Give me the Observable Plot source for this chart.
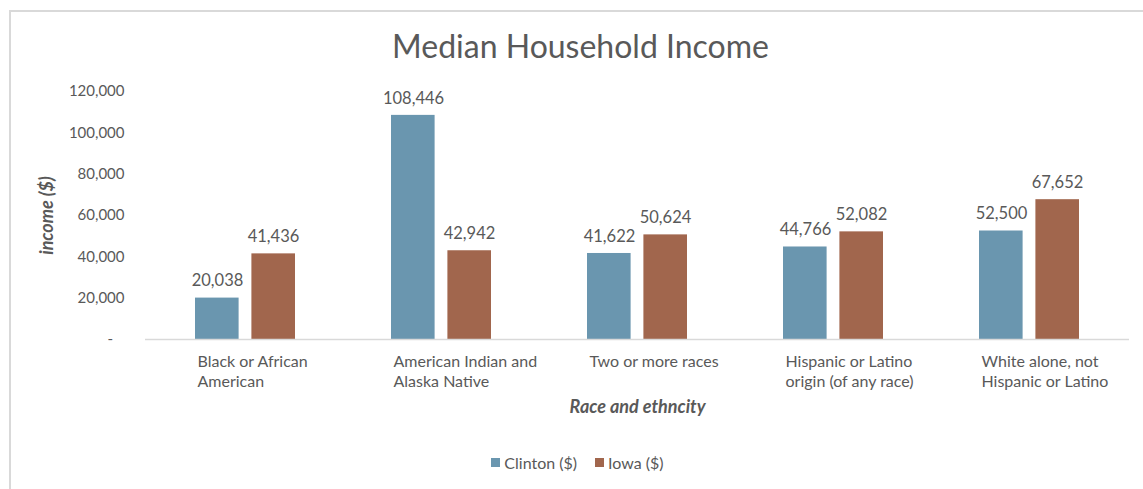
<!DOCTYPE html>
<html>
<head>
<meta charset="utf-8">
<script src="https://cdn.jsdelivr.net/npm/d3@7"></script>
<script src="https://cdn.jsdelivr.net/npm/@observablehq/plot@0.6"></script>
<style>
  html, body { margin: 0; padding: 0; background: #fff; }
  body { width: 1143px; height: 489px; overflow: hidden; position: relative; font-family: Lato, "Open Sans", sans-serif; color: #595959; }
  #frame { position: absolute; left: 9px; top: 10px; width: 1300px; height: 700px; border-top: 2px solid #d9d9d9; border-left: 2px solid #d9d9d9; box-sizing: border-box; }
  #wrap { position: absolute; left: 0; top: 0; width: 1143px; }
  #title { height: 75px; line-height: 92px; text-align: center; font-size: 32px; padding-left: 18px; box-sizing: border-box; }
  #chart svg { display: block; }
  #legend { display: flex; justify-content: center; align-items: center; gap: 18px; font-size: 16px; padding-top: 23px; padding-left: 12px; }
  .key { display: flex; align-items: center; gap: 4px; }
  .sw { width: 9px; height: 9px; display: inline-block; }
</style>
</head>
<body>
<div id="frame"></div>
<div id="wrap">
  <div id="title">Median Household Income</div>
  <div id="chart"></div>
  <div id="legend"></div>
</div>
<script>
const categories = [
  "Black or African American",
  "American Indian and Alaska Native",
  "Two or more races",
  "Hispanic or Latino origin (of any race)",
  "White alone, not Hispanic or Latino"
];
const categoryLabels = [
  "Black or African\nAmerican",
  "American Indian and\nAlaska Native",
  "Two or more races",
  "Hispanic or Latino\norigin (of any race)",
  "White alone, not\nHispanic or Latino"
];
const seriesNames = ["Clinton ($)", "Iowa ($)"];
const clintonValues = [20038, 108446, 41622, 44766, 52500];
const iowaValues = [41436, 42942, 50624, 52082, 67652];
const yTicks = [0, 20000, 40000, 60000, 80000, 100000, 120000];
const colors = ["#6A96AF", "#A1664D"];

const clinton = categories.map((c, i) => ({category: c, value: clintonValues[i]}));
const iowa = categories.map((c, i) => ({category: c, value: iowaValues[i]}));
const labelRows = categories.map((c, i) => ({category: c, label: categoryLabels[i]}));

const fmt = d3.format(",");
const textColor = "#595959";
const font = "Lato, 'Open Sans', sans-serif";

const plot = Plot.plot({
  width: 1143,
  height: 355,
  marginLeft: 145,
  marginRight: 14,
  marginTop: 16,
  marginBottom: 91,
  style: {fontFamily: font, fontSize: "15px", color: textColor, background: "transparent"},
  x: {domain: categories, paddingInner: 0.49, paddingOuter: 0.245, axis: null},
  y: {domain: [0, 120000], ticks: yTicks, label: null},
  marks: [
    Plot.axisY({
      ticks: yTicks,
      tickSize: 0,
      tickPadding: 21,
      label: null,
      fontSize: 15,
      fill: textColor,
      tickFormat: d => d === 0 ? "-\u00a0\u00a0\u00a0" : fmt(d)
    }),
    Plot.barY(clinton, {x: "category", y: "value", fill: colors[0], insetRight: 56.4}),
    Plot.barY(iowa, {x: "category", y: "value", fill: colors[1], insetLeft: 56.4}),
    Plot.ruleY([0], {stroke: "#d9d9d9", strokeWidth: 1.5}),
    Plot.text(clinton, {x: "category", y: "value", text: d => fmt(d.value), dx: -28, dy: -17, fill: textColor, fontSize: 16.5}),
    Plot.text(iowa, {x: "category", y: "value", text: d => fmt(d.value), dx: 28, dy: -17, fill: textColor, fontSize: 16.5}),
    Plot.text(labelRows, {x: "category", text: "label", frameAnchor: "bottom", lineAnchor: "top", textAnchor: "start", dx: -48, dy: 13, lineHeight: 1.25, fill: textColor, fontSize: 16}),
    Plot.text(["Race and ethncity"], {frameAnchor: "bottom", textAnchor: "middle", dy: 73, fill: textColor, fontSize: 18, fontWeight: "bold", fontStyle: "italic"}),
    Plot.text(["income ($)"], {frameAnchor: "left", textAnchor: "middle", dx: -98, rotate: -90, fill: textColor, fontSize: 18, fontWeight: "bold", fontStyle: "italic"})
  ]
});
document.getElementById("chart").appendChild(plot);

const legend = document.getElementById("legend");
seriesNames.forEach((name, i) => {
  const k = document.createElement("div");
  k.className = "key";
  const sw = document.createElement("span");
  sw.className = "sw";
  sw.style.background = colors[i];
  const t = document.createElement("span");
  t.textContent = name;
  k.appendChild(sw);
  k.appendChild(t);
  legend.appendChild(k);
});
</script>
</body>
</html>
